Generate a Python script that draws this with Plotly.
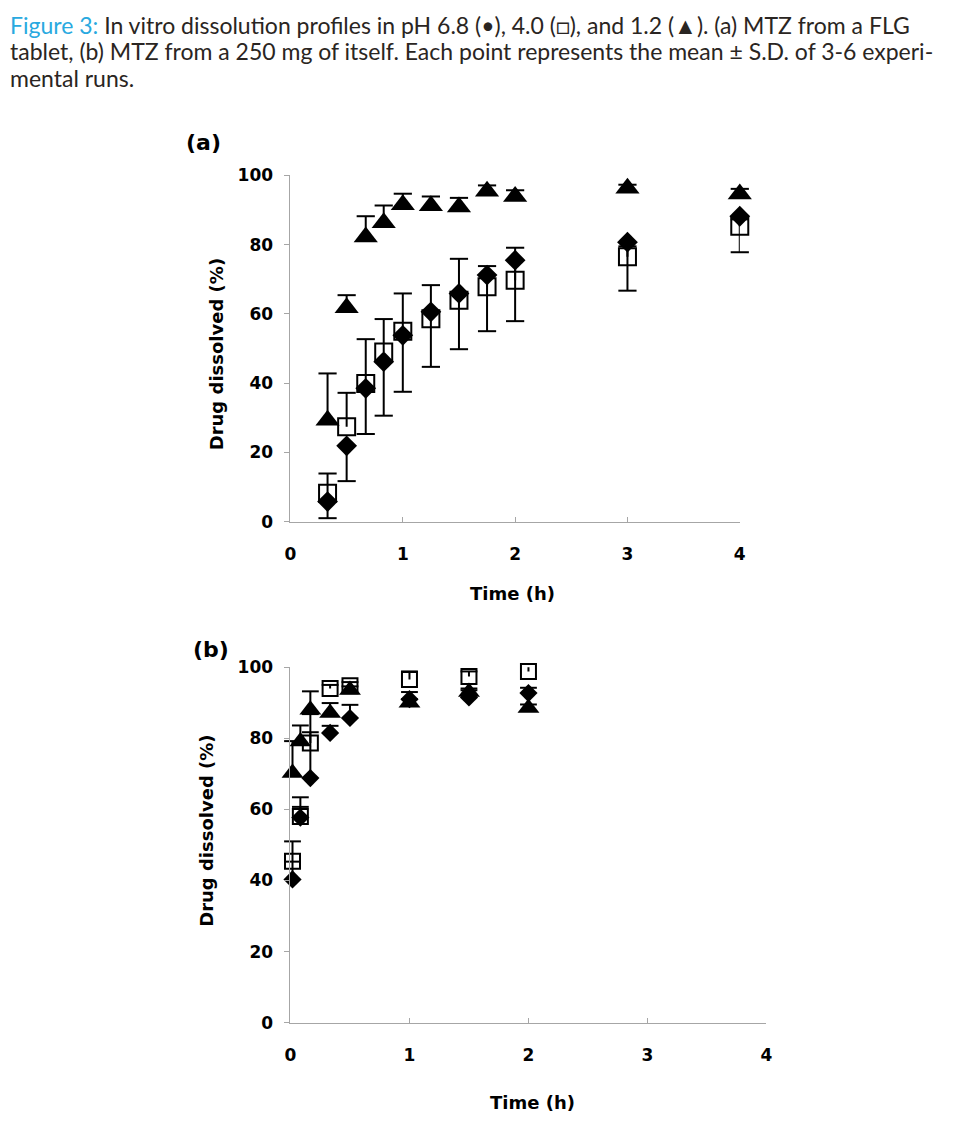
import plotly.graph_objects as go

# ---------------- data ----------------
# Panel (a): MTZ from a FLG tablet
time_a = [0.33, 0.5, 0.67, 0.83, 1.0, 1.25, 1.5, 1.75, 2.0, 3.0, 4.0]
a_ph68 = [5.8, 21.9, 38.5, 46.2, 53.8, 60.6, 65.9, 71.2, 75.5, 80.7, 88.2]
a_ph68_sd = [4.8, 10.2, 13.2, 15.6, 16.3, 15.9, 16.1, 16.2, 17.6, 14.0, 10.4]   # drawn downward
a_ph40 = [8.2, 27.4, 39.9, 49.0, 55.0, 58.6, 63.9, 67.8, 69.7, 76.5, 85.3]
a_ph40_sd = [5.7, 9.8, 12.8, 9.5, 10.9, 9.7, 12.0, 6.0, 9.4, 3.0, 2.0]         # drawn upward
a_ph12 = [29.3, 61.8, 82.2, 86.3, 91.5, 91.2, 90.9, 95.4, 93.9, 96.3, 94.6]
a_ph12_sd = [13.5, 3.6, 6.0, 5.0, 3.2, 2.7, 2.6, 1.7, 1.8, 1.0, 1.5]           # drawn upward

# Panel (b): MTZ from a 250 mg of itself
time_b = [0.017, 0.083, 0.167, 0.333, 0.5, 1.0, 1.5, 2.0]
b_ph68 = [40.3, 57.7, 68.8, 81.5, 85.7, 91.0, 91.5, 92.7]
b_ph68_sd = [5.0, 3.0, 18.0, 2.0, 3.7, 2.0, 2.0, 1.5]
b_ph40 = [45.4, 58.0, 78.7, 94.0, 94.8, 96.5, 97.4, 98.8]
b_ph40_sd = [5.6, 5.4, 3.0, 1.0, 1.0, 2.3, 1.4, 2.6]
b_ph12 = [70.2, 79.1, 88.0, 87.1, 93.6, 90.0, 93.0, 88.5]
b_ph12_sd = [9.0, 4.5, 5.2, 2.8, 1.0, 1.0, 1.0, 1.0]

x_ticks = [0, 1, 2, 3, 4]
x_ticktext = ["0", "1", "2", "3", "4"]
y_ticks = [0, 20, 40, 60, 80, 100]
y_ticktext = ["0", "20", "40", "60", "80", "100"]

CAPTION_LINES = [
    '<span style="color:#29a9e0">Figure 3:</span> In vitro dissolution profiles in pH 6.8 (•), 4.0 (□), and 1.2 (▲). (a) MTZ from a FLG',
    'tablet, (b) MTZ from a 250 mg of itself. Each point represents the mean ± S.D. of 3-6 experi-',
    'mental runs.',
]

# ---------------- layout helpers ----------------
W, H = 956, 1140
SY = 964 / 980         # observed vertical page-to-picture scale
OFFX, OFFY = 8, 16     # observed offsets of the figure inside the picture
def fx(p):
    return (p - OFFX) / W
def fy(p):
    return 1 - (p / SY - OFFY) / H

FONT = "DejaVu Sans"
AX_GRAY = "#a6a6a6"

fig = go.Figure()

def add_series(xs, ys, sd, direction, symbol, size, xa, ya, cap):
    zeros = [0] * len(sd)
    if direction == "up":
        err = dict(type="data", symmetric=False, array=sd, arrayminus=zeros)
        ends = [y + s for y, s in zip(ys, sd)]
    else:
        err = dict(type="data", symmetric=False, array=zeros, arrayminus=sd)
        ends = [y - s for y, s in zip(ys, sd)]
    err.update(color="black", thickness=2, width=0, visible=True)
    # vertical error line
    fig.add_trace(go.Scatter(x=xs, y=ys, mode="markers", marker=dict(size=1, opacity=0),
                             error_y=err, xaxis=xa, yaxis=ya, cliponaxis=False,
                             showlegend=False, hoverinfo="skip"))
    # cross-bar at the end of the error line
    fig.add_trace(go.Scatter(x=xs, y=ends, mode="markers",
                             marker=dict(symbol="line-ew", size=cap, color="black",
                                         line=dict(width=2, color="black")),
                             xaxis=xa, yaxis=ya, cliponaxis=False, showlegend=False,
                             hoverinfo="skip"))
    if symbol == "square-open":
        marker = dict(symbol=symbol, size=size, color="black", line=dict(width=2, color="black"))
    else:
        marker = dict(symbol=symbol, size=size, color="black", line=dict(width=0))
    fig.add_trace(go.Scatter(x=xs, y=ys, mode="markers", marker=marker,
                             xaxis=xa, yaxis=ya, cliponaxis=False, showlegend=False))

# panel (a)
add_series(time_a, a_ph40, a_ph40_sd, "up", "square-open", 17, "x", "y", 13)
add_series(time_a, a_ph68, a_ph68_sd, "down", "diamond", 16, "x", "y", 13)
add_series(time_a, a_ph12, a_ph12_sd, "up", "triangle-up", 21, "x", "y", 13)
# panel (b)
add_series(time_b, b_ph40, b_ph40_sd, "up", "square-open", 15, "x2", "y2", 12)
add_series(time_b, b_ph68, b_ph68_sd, "up", "diamond", 14, "x2", "y2", 12)
add_series(time_b, b_ph12, b_ph12_sd, "up", "triangle-up", 19, "x2", "y2", 12)

tickfont = dict(family=FONT, size=17, color="black", weight="bold")

def xaxis_cfg(dom, anchor):
    return dict(domain=dom, anchor=anchor, range=[0, 4], tickvals=x_ticks, ticktext=x_ticktext,
                showline=True, linecolor=AX_GRAY, linewidth=1, ticks="inside", ticklen=5,
                tickcolor=AX_GRAY, showgrid=False, zeroline=False, tickfont=tickfont,
                ticklabelstandoff=17)

def yaxis_cfg(dom, anchor):
    return dict(domain=dom, anchor=anchor, range=[0, 100], tickvals=y_ticks, ticktext=y_ticktext,
                showline=True, linecolor=AX_GRAY, linewidth=1, ticks="outside", ticklen=5,
                tickcolor=AX_GRAY, showgrid=False, zeroline=False, tickfont=tickfont,
                ticklabelstandoff=8)

fig.update_layout(
    width=W, height=H, margin=dict(l=0, r=0, t=0, b=0),
    paper_bgcolor="white", plot_bgcolor="white", showlegend=False,
    xaxis=xaxis_cfg([fx(288), fx(743)], "y"),
    yaxis=yaxis_cfg([fy(520), fy(173.3)], "x"),
    xaxis2=xaxis_cfg([fx(288), fx(770)], "y2"),
    yaxis2=yaxis_cfg([fy(1021.7), fy(665.7)], "x2"),
)

title_font = dict(family=FONT, size=18, color="black", weight="bold")
annots = [
    dict(text="(a)", x=fx(200), y=fy(140), font=dict(family=FONT, size=22, color="black", weight="bold")),
    dict(text="(b)", x=fx(207), y=fy(648), font=dict(family=FONT, size=22, color="black", weight="bold")),
    dict(text="Drug dissolved (%)", x=fx(213), y=fy(352), textangle=-90, font=title_font),
    dict(text="Drug dissolved (%)", x=fx(203), y=fy(830), textangle=-90, font=title_font),
    dict(text="Time (h)", x=fx(513), y=fy(592), font=title_font),
    dict(text="Time (h)", x=fx(533), y=fy(1102), font=title_font),
]
for line, yc in zip(CAPTION_LINES, [23, 49, 76]):
    annots.append(dict(text=line, x=fx(3), y=fy(yc), xanchor="left", yanchor="middle",
                       align="left", borderpad=0,
                       font=dict(family="Lato", size=23.0, color="#2a2522")))
for a in annots:
    a.setdefault("xanchor", "center")
    a.setdefault("yanchor", "middle")
    fig.add_annotation(xref="paper", yref="paper", showarrow=False, **a)

fig.write_html("out.html")
